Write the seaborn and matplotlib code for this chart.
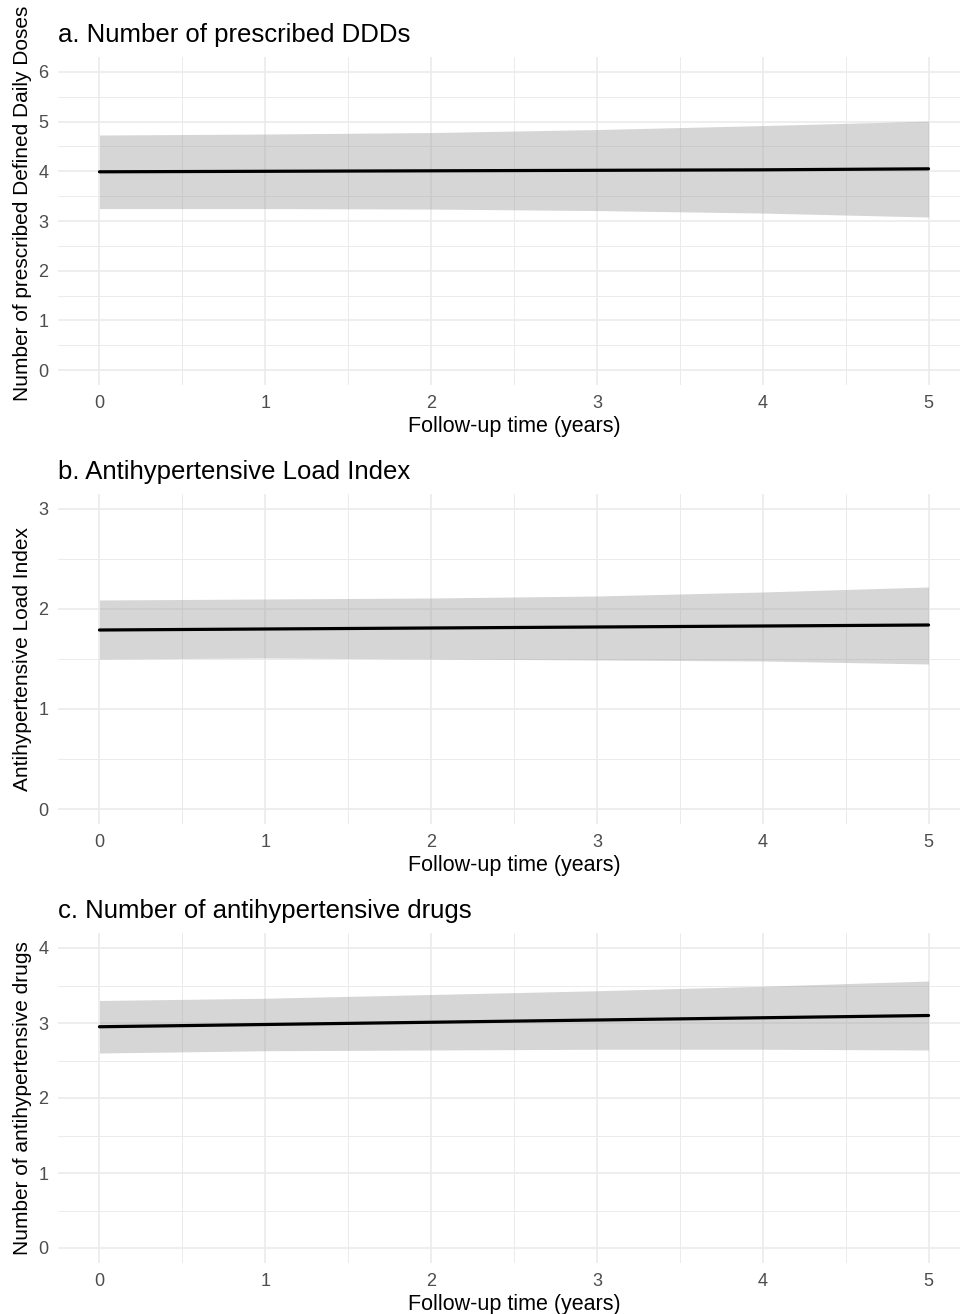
import numpy as np
import pandas as pd
import matplotlib
matplotlib.use("Agg")
import matplotlib.pyplot as plt
from matplotlib.ticker import MultipleLocator
import seaborn as sns

years = [0, 1, 2, 3, 4, 5]

# a. prescribed DDDs
ddd_fit = [3.99, 4.00, 4.01, 4.02, 4.03, 4.05]
ddd_lower = [3.25, 3.25, 3.24, 3.21, 3.16, 3.08]
ddd_upper = [4.73, 4.75, 4.78, 4.84, 4.92, 5.01]

# b. antihypertensive load index
ali_fit = [1.79, 1.80, 1.81, 1.82, 1.83, 1.84]
ali_lower = [1.50, 1.51, 1.50, 1.49, 1.48, 1.45]
ali_upper = [2.09, 2.10, 2.11, 2.13, 2.17, 2.22]

# c. number of antihypertensive drugs
drug_fit = [2.95, 2.98, 3.01, 3.04, 3.07, 3.10]
drug_lower = [2.60, 2.63, 2.64, 2.65, 2.65, 2.64]
drug_upper = [3.30, 3.33, 3.38, 3.43, 3.49, 3.56]

panels = [
    ("a. Number of prescribed DDDs", "Number of prescribed Defined Daily Doses",
     ddd_fit, ddd_lower, ddd_upper, 6, 0.555),
    ("b. Antihypertensive Load Index", "Antihypertensive Load Index",
     ali_fit, ali_lower, ali_upper, 3, 0.5),
    ("c. Number of antihypertensive drugs", "Number of antihypertensive drugs",
     drug_fit, drug_lower, drug_upper, 4, 0.5),
]

sns.set_theme(style="white")
plt.rcParams["font.family"] = ["Liberation Sans", "DejaVu Sans"]

W, H = 960, 1314
fig = plt.figure(figsize=(W / 100, H / 100), dpi=100)

# panel boxes in pixels: (top, bottom)
boxes = [(57, 385), (494, 824), (933, 1263)]
left_px, right_px = 58, 970

for (title, ylabel, fit, lo, hi, ymax, ylab_y), (top, bottom) in zip(panels, boxes):
    ax = fig.add_axes([left_px / W, 1 - bottom / H,
                       (right_px - left_px) / W, (bottom - top) / H])
    df = pd.DataFrame({"years": years, "fit": fit, "lower": lo, "upper": hi})

    ax.fill_between(df["years"], df["lower"], df["upper"],
                    color="#999999", alpha=0.4, linewidth=0, zorder=2)
    sns.lineplot(data=df, x="years", y="fit", color="black", linewidth=2.3,
                 ax=ax, zorder=3)

    pad = ymax * 0.05
    ax.set_xlim(-0.25, 5.25)
    ax.set_ylim(-pad, ymax + pad)
    ax.xaxis.set_major_locator(MultipleLocator(1))
    ax.xaxis.set_minor_locator(MultipleLocator(0.5))
    ax.yaxis.set_major_locator(MultipleLocator(1))
    ax.yaxis.set_minor_locator(MultipleLocator(0.5))

    ax.grid(which="major", color="#EBEBEB", linewidth=1.2, zorder=0)
    ax.grid(which="minor", color="#EBEBEB", linewidth=0.7, zorder=0)
    ax.set_axisbelow(True)
    for s in ax.spines.values():
        s.set_visible(False)

    ax.tick_params(which="both", length=0)
    ax.tick_params(axis="y", labelsize=13, labelcolor="#4D4D4D", pad=7)
    ax.tick_params(axis="x", labelsize=13, labelcolor="#4D4D4D", pad=7)

    ax.set_xlabel("Follow-up time (years)", fontsize=15.5, color="black", labelpad=3)
    ax.set_ylabel(ylabel, fontsize=15, color="black")
    ax.yaxis.set_label_coords(-26 / (right_px - left_px), ylab_y)
    ax.set_title(title, loc="left", fontsize=18.5, color="black", pad=11)

fig.savefig("out.png", dpi=100)
